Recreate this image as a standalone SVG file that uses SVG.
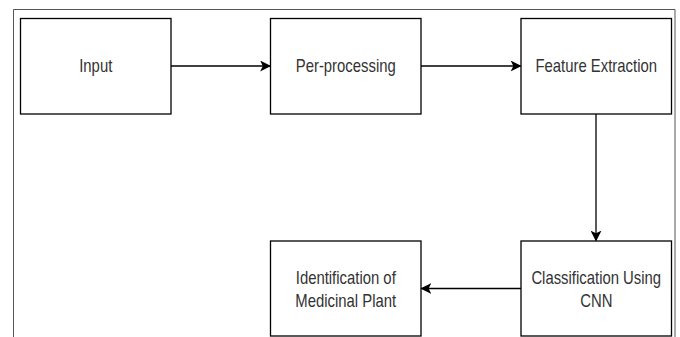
<svg xmlns="http://www.w3.org/2000/svg" width="680" height="337" viewBox="0 0 680 337">
<style>
.box{fill:#fff;stroke:#000;stroke-width:1.3}
.lbl{font-family:"Liberation Sans",Arial,sans-serif;font-size:17.5px;fill:#333;text-anchor:middle}
.conn{stroke:#000;stroke-width:1.3;fill:none}
</style>
<defs>
<marker id="ah" viewBox="0 0 10 10" refX="9" refY="5" markerWidth="11" markerHeight="11" markerUnits="userSpaceOnUse" orient="auto">
<path d="M0,0 L10,5 L0,10 L2.5,5 Z" fill="#000"/>
</marker>
</defs>
<rect x="0" y="0" width="680" height="337" fill="#fff"/>
<path d="M13.5,337 V9.5 H675 V337" fill="none" stroke="#555" stroke-width="1"/>
<g id="input"><rect class="box" x="20.5" y="18.5" width="150.5" height="95.5"/><text class="lbl" transform="translate(95.75,72) scale(0.85,1)">Input</text></g>
<g id="preprocessing"><rect class="box" x="270.5" y="18.5" width="150.5" height="95.5"/><text class="lbl" transform="translate(345.75,72) scale(0.85,1)">Per-processing</text></g>
<g id="feature"><rect class="box" x="521" y="18.5" width="150.5" height="95.5"/><text class="lbl" transform="translate(596.25,72) scale(0.85,1)">Feature Extraction</text></g>
<g id="classification"><rect class="box" x="521" y="241" width="150.5" height="95"/><text class="lbl" transform="translate(596.25,284) scale(0.85,1)">Classification Using</text><text class="lbl" transform="translate(596.25,307) scale(0.85,1)">CNN</text></g>
<g id="identification"><rect class="box" x="270.5" y="241" width="150.5" height="95"/><text class="lbl" transform="translate(345.75,284) scale(0.85,1)">Identification of</text><text class="lbl" transform="translate(345.75,307) scale(0.85,1)">Medicinal Plant</text></g>
<g id="connectors">
<line class="conn" x1="171" y1="66" x2="270" y2="66" marker-end="url(#ah)"/>
<line class="conn" x1="421" y1="66" x2="520.5" y2="66" marker-end="url(#ah)"/>
<line class="conn" x1="596" y1="114" x2="596" y2="240.5" marker-end="url(#ah)"/>
<line class="conn" x1="521" y1="288.5" x2="421.5" y2="288.5" marker-end="url(#ah)"/>
</g>
</svg>
